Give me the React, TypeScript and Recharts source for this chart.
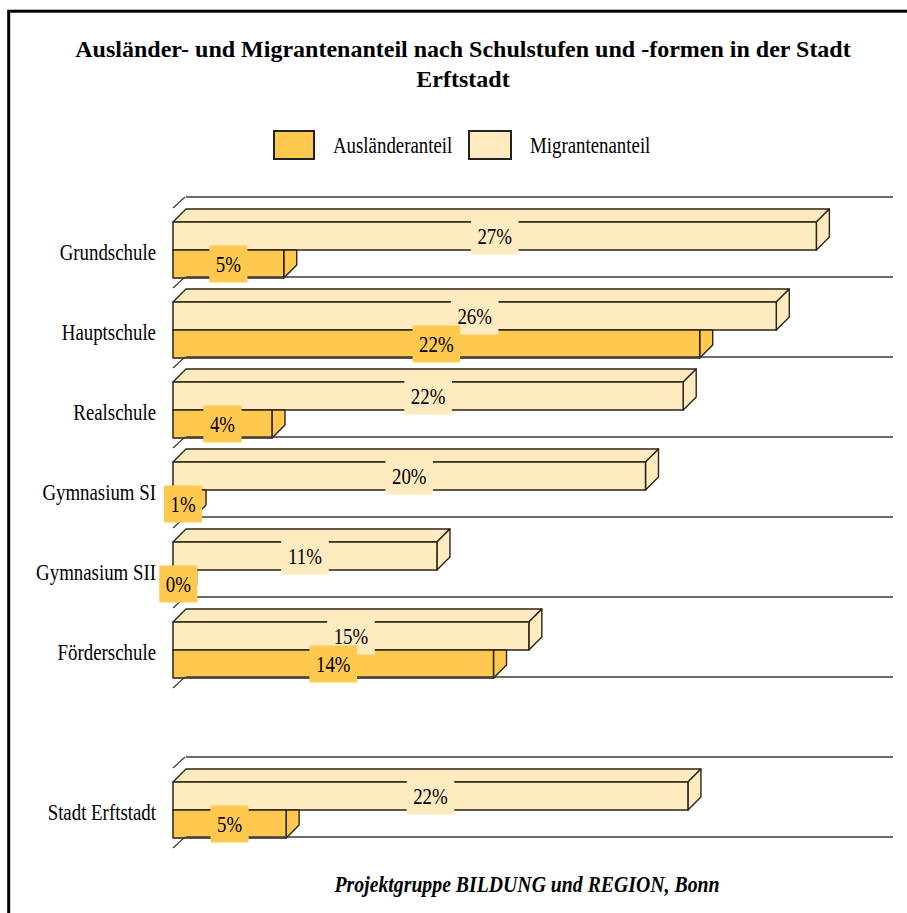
import React from 'react';
import { BarChart, Bar, XAxis, YAxis, LabelList, ReferenceLine } from 'recharts';

// ---- data ----
const categories = ['Grundschule', 'Hauptschule', 'Realschule', 'Gymnasium SI', 'Gymnasium SII', 'Förderschule', ' ', 'Stadt Erftstadt'];
const migrantenanteil: (number | null)[] = [27.3, 25.6, 21.65, 20.05, 11.2, 15.1, null, 21.85];
const auslaenderanteil: (number | null)[] = [4.7, 22.35, 4.2, 0.85, 0.45, 13.6, null, 4.8];
const seriesNames = ['Ausländeranteil', 'Migrantenanteil'];
const titleLines = ['Ausländer- und Migrantenanteil nach Schulstufen und -formen in der Stadt', 'Erftstadt'];
const footer = 'Projektgruppe BILDUNG und REGION, Bonn';

const data = categories.map((c, i) => ({ cat: c, mig: migrantenanteil[i], aus: auslaenderanteil[i] }));

// ---- style ----
const ORANGE = '#FFC94F';
const LIGHT = '#FFEBBF';
const EDGE = '#2b2519';
const D = 13;
const FONT = '"Liberation Serif", "Times New Roman", serif';
const FS = 23;
const SX = 0.82;

const MigrantShape = (p: any) => {
  const { x, y, width: w, height: h, fill } = p;
  if (w == null || h == null || isNaN(w)) return <g />;
  return (
    <g>
      <polygon points={`${x},${y} ${x + D},${y - D} ${x + w + D},${y - D} ${x + w},${y}`} fill={fill} stroke={EDGE} strokeWidth={1.4} strokeLinejoin="round" />
      <polygon points={`${x + w},${y} ${x + w + D},${y - D} ${x + w + D},${y + h - D} ${x + w},${y + h}`} fill={fill} stroke={EDGE} strokeWidth={1.4} strokeLinejoin="round" />
      <rect x={x} y={y} width={w} height={h} fill={fill} stroke={EDGE} strokeWidth={1.5} />
    </g>
  );
};

const AuslShape = (p: any) => {
  const { x, y, width: w, height: h, fill } = p;
  if (w == null || h == null || isNaN(w)) return <g />;
  return (
    <g>
      <polygon points={`${x + w},${y} ${x + w + D},${y} ${x + w + D},${y + h - D} ${x + w},${y + h}`} fill={fill} stroke={EDGE} strokeWidth={1.4} strokeLinejoin="round" />
      <rect x={x} y={y} width={w} height={h} fill={fill} stroke={EDGE} strokeWidth={1.5} />
    </g>
  );
};

const makeLabel = (fill: string) => (p: any) => {
  const { x, y, width, height, value } = p;
  if (value == null) return null;
  const txt = Math.round(Number(value)) + '%';
  const cx = Number(x) + Number(width) / 2;
  const cy = Number(y) + Number(height) / 2;
  const tw = ((txt.length - 1) * 0.5 + 0.833) * FS * SX;
  const bw = tw + 13;
  const bh = 37;
  return (
    <g>
      <rect x={cx - bw / 2} y={cy - bh / 2} width={bw} height={bh} fill={fill} />
      <text transform={`translate(${cx},${cy + 8}) scale(${SX},1)`} textAnchor="middle" fontSize={FS} fontFamily={FONT} fill="#000">
        {txt}
      </text>
    </g>
  );
};

const CatTick = (p: any) => {
  const { x, y, payload } = p;
  const v = String(payload?.value ?? '');
  if (!v.trim()) return <g />;
  return (
    <text transform={`translate(${x - 17},${y + 10}) scale(${SX},1)`} textAnchor="end" fontSize={FS} fontFamily={FONT} fill="#000">
      {v}
    </text>
  );
};

const GridShape = (p: any) => {
  const { x1, y1, x2, y2 } = p;
  return (
    <g>
      <line x1={x1 + D} y1={y1 - D} x2={x2 + D} y2={y2 - D} stroke="#3a3a3a" strokeWidth={1.3} />
      <line x1={x1} y1={y1 - 2} x2={x1 + D - 1} y2={y1 - D} stroke="#3a3a3a" strokeWidth={1.2} />
    </g>
  );
};

export default function App() {
  return (
    <div style={{ position: 'relative', width: 907, height: 913, overflow: 'hidden', background: '#fff' }}>
      <style>{'body{margin:0;}'}</style>
      <svg width={907} height={913} style={{ position: 'absolute', left: 0, top: 0 }}>
        <rect x={8.7} y={11.2} width={1200} height={1200} fill="none" stroke="#000" strokeWidth={3} />
        <text x={463} y={57} textAnchor="middle" fontSize={24} fontWeight="bold" fontFamily={FONT} fill="#000">{titleLines[0]}</text>
        <text x={463} y={87} textAnchor="middle" fontSize={24} fontWeight="bold" fontFamily={FONT} fill="#000">{titleLines[1]}</text>
        {/* legend */}
        <rect x={274} y={131} width={40} height={28} fill={ORANGE} stroke="#222" strokeWidth={2} />
        <text transform={`translate(333,153) scale(${SX},1)`} fontSize={FS} fontFamily={FONT} fill="#000">{seriesNames[0]}</text>
        <rect x={469} y={131} width={42} height={28} fill={LIGHT} stroke="#222" strokeWidth={2} />
        <text transform={`translate(530,153) scale(${SX},1)`} fontSize={FS} fontFamily={FONT} fill="#000">{seriesNames[1]}</text>
        <text transform={`translate(527,892) scale(0.86,1)`} textAnchor="middle" fontSize={FS} fontWeight="bold" fontStyle="italic" fontFamily={FONT} fill="#000">{footer}</text>
      </svg>
      <div style={{ position: 'absolute', left: 0, top: 0 }}>
        <BarChart
          width={907}
          height={913}
          layout="vertical"
          data={data}
          margin={{ top: 210, right: 27, bottom: 63, left: 8 }}
          barCategoryGap="15%"
          barGap={0}
        >
          <XAxis type="number" domain={[0, 30]} hide />
          <YAxis type="category" dataKey="cat" width={165} axisLine={false} tickLine={false} tickSize={0} tickMargin={0} tick={CatTick} interval={0} />
          {categories.map((c) => (
            <ReferenceLine key={'g' + c} y={c} position="start" ifOverflow="visible" shape={GridShape} />
          ))}
          <ReferenceLine y={categories[categories.length - 1]} position="end" ifOverflow="visible" shape={GridShape} />
          <Bar dataKey="mig" name={seriesNames[1]} fill={LIGHT} shape={MigrantShape} isAnimationActive={false}>
            <LabelList dataKey="mig" content={makeLabel(LIGHT)} />
          </Bar>
          <Bar dataKey="aus" name={seriesNames[0]} fill={ORANGE} shape={AuslShape} isAnimationActive={false}>
            <LabelList dataKey="aus" content={makeLabel(ORANGE)} />
          </Bar>
        </BarChart>
      </div>
    </div>
  );
}
